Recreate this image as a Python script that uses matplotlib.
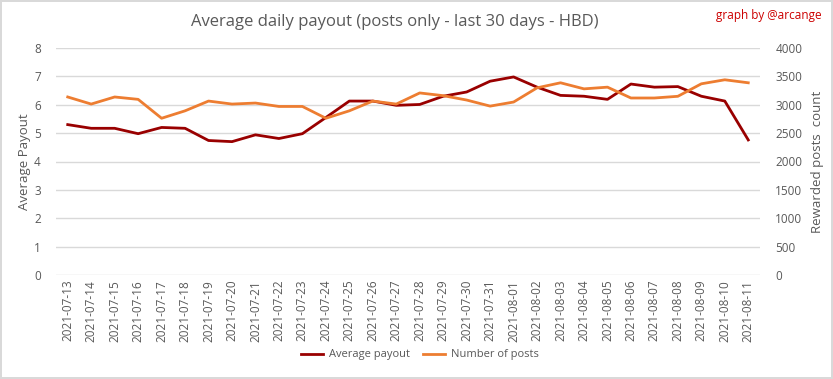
import matplotlib
matplotlib.use("Agg")
import matplotlib.pyplot as plt
from matplotlib.lines import Line2D

dates = ["2021-07-13","2021-07-14","2021-07-15","2021-07-16","2021-07-17","2021-07-18",
         "2021-07-19","2021-07-20","2021-07-21","2021-07-22","2021-07-23","2021-07-24",
         "2021-07-25","2021-07-26","2021-07-27","2021-07-28","2021-07-29","2021-07-30",
         "2021-07-31","2021-08-01","2021-08-02","2021-08-03","2021-08-04","2021-08-05",
         "2021-08-06","2021-08-07","2021-08-08","2021-08-09","2021-08-10","2021-08-11"]
avg_payout = [5.30, 5.17, 5.17, 4.98, 5.20, 5.17, 4.74, 4.70, 4.94, 4.81, 4.98, 5.55,
              6.13, 6.13, 5.98, 6.01, 6.30, 6.45, 6.83, 6.98, 6.62, 6.33, 6.30, 6.19,
              6.73, 6.62, 6.64, 6.30, 6.13, 4.76]
num_posts = [3137, 3012, 3137, 3095, 2762, 2893, 3065, 3012, 3030, 2970, 2970, 2762,
             2893, 3065, 3012, 3208, 3160, 3083, 2976, 3048, 3298, 3387, 3280, 3310,
             3119, 3119, 3149, 3369, 3440, 3387]

plt.rcParams['font.family'] = ['Open Sans', 'DejaVu Sans']
gray = '#595959'
c_red = '#990000'
c_org = '#ED7D31'

fig = plt.figure(figsize=(8.33, 3.79), dpi=100)
fig.patch.set_facecolor('white')
fig.patch.set_edgecolor('#d9d9d9')
fig.patch.set_linewidth(1.5)

ax = fig.add_axes([56/833, 1-275/379, 704/833, 227/379])
ax2 = ax.twinx()
x = list(range(len(dates)))
ax.plot(x, avg_payout, color=c_red, lw=2, zorder=3)
ax2.plot(x, num_posts, color=c_org, lw=2, zorder=3)

ax.set_xlim(-0.5, len(dates)-0.5)
ax.set_ylim(0, 8)
ax2.set_ylim(0, 4000)
ax.set_yticks(range(0, 9))
ax2.set_yticks(range(0, 4001, 500))
ax.set_xticks(x)
ax.set_xticklabels(dates, rotation=90, fontsize=8.5, color=gray)
for a in (ax, ax2):
    for s in a.spines.values():
        s.set_visible(False)
    a.tick_params(length=0, colors=gray, labelsize=8.5)
ax.tick_params(axis='y', pad=11)
ax2.tick_params(axis='y', pad=11)
ax.yaxis.grid(True, color='#d9d9d9', lw=1)
ax.set_axisbelow(True)
ax.set_ylabel('Average Payout', color=gray, fontsize=9.5, labelpad=2)
ax2.set_ylabel('Rewarded posts  count', color=gray, fontsize=9.5, labelpad=6)

fig.text(395/833, 1-22/379, 'Average daily payout (posts only - last 30 days - HBD)',
         ha='center', va='center', fontsize=12, color=gray)
fig.text(822/833, 1-16/379, 'graph by @arcange', ha='right', va='center',
         fontsize=8.5, color='#cc0000')

handles = [Line2D([], [], color=c_red, lw=2), Line2D([], [], color=c_org, lw=2)]
fig.legend(handles, ['Average payout', 'Number of posts'], loc='center',
           bbox_to_anchor=(420/833, 1-355/379), ncol=2, frameon=False,
           fontsize=8, labelcolor=gray, handlelength=2.0, handletextpad=0.5,
           columnspacing=1.2)

fig.savefig('out.png', dpi=100, facecolor=fig.get_facecolor(), edgecolor=fig.get_edgecolor())
